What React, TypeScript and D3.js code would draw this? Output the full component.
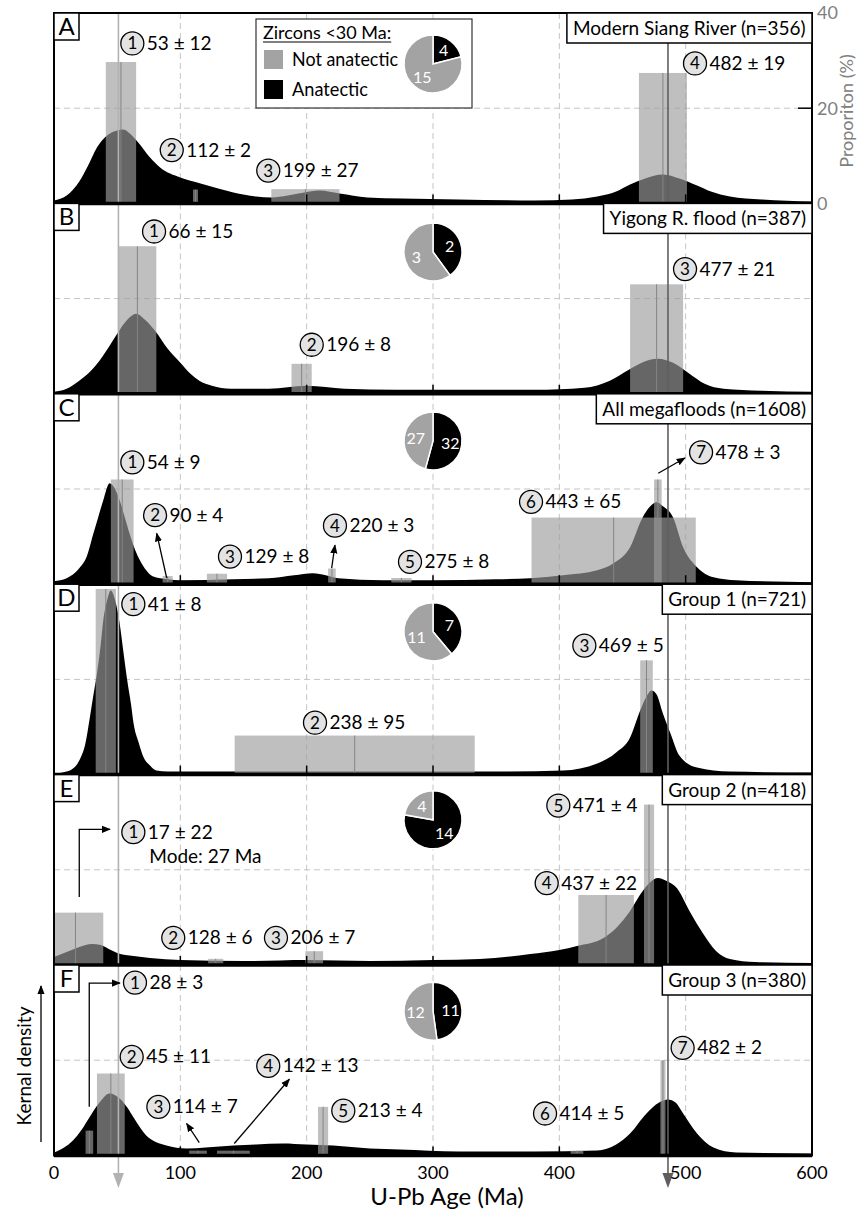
import React from 'react';
import * as d3 from 'd3';

// ---- data ----
const panelLetters = ['A', 'B', 'C', 'D', 'E', 'F'];
const panelTitles = [
  'Modern Siang River (n=356)',
  'Yigong R. flood (n=387)',
  'All megafloods (n=1608)',
  'Group 1 (n=721)',
  'Group 2 (n=418)',
  'Group 3 (n=380)',
];
// zircons < 30 Ma per panel
const anatectic = [4, 2, 32, 7, 14, 11];
const notAnatectic = [15, 3, 27, 11, 4, 12];

const xTicks = [0, 100, 200, 300, 400, 500, 600];
const propTicks = [0, 20, 40];
const referenceAges = [51, 486];

// kernel density curves: [age Ma, relative density]
const densityA = [[0, 3], [10, 8], [20, 22], [27, 38], [34, 56], [42, 68], [50, 73], [55, 74], [60, 70], [66, 62], [76, 46], [84, 36], [100, 26], [116, 20], [130, 15], [142, 11], [160, 7], [172, 6], [185, 8], [198, 11], [210, 13], [226, 10], [248, 6], [275, 5], [320, 4], [380, 3], [410, 4], [430, 7], [445, 12], [456, 19], [468, 25], [482, 29], [495, 25], [509, 18], [520, 12], [535, 7], [560, 4], [600, 2]];
const densityB = [[0, 2], [10, 5], [20, 13], [30, 24], [36, 33], [45, 50], [50, 60], [58, 74], [65, 80], [72, 74], [80, 63], [90, 45], [100, 31], [108, 20], [115, 13], [125, 8], [140, 5], [170, 5], [200, 8], [230, 5], [270, 4], [320, 4], [380, 4], [420, 6], [440, 13], [455, 24], [467, 32], [478, 35], [490, 31], [503, 20], [515, 10], [530, 5], [560, 3], [600, 2]];
const densityC = [[0, 3], [10, 6], [20, 16], [26, 28], [31, 50], [35, 67], [39, 84], [44, 101], [48, 96], [52, 84], [56, 67], [60, 50], [64, 35], [68, 24], [73, 14], [78, 8], [90, 5], [100, 4], [142, 5], [170, 6], [190, 9], [205, 11], [215, 9], [225, 6], [260, 4], [300, 4], [350, 5], [377, 6], [403, 9], [430, 14], [443, 21], [456, 37], [466, 67], [472, 78], [477, 82], [482, 78], [490, 67], [498, 37], [509, 17], [522, 7], [540, 4], [600, 2]];
const densityD = [[0, 1], [10, 3], [16, 7], [20, 14], [25, 32], [28, 54], [31, 78], [34, 101], [37, 130], [39, 154], [42, 174], [45, 184], [48, 176], [52, 151], [55, 122], [58, 94], [61, 70], [63, 51], [67, 32], [71, 17], [76, 9], [81, 4], [90, 3], [150, 3], [250, 3], [350, 3], [403, 4], [430, 11], [445, 22], [456, 37], [464, 64], [469, 78], [473, 84], [477, 80], [482, 61], [488, 41], [495, 19], [509, 7], [535, 3], [600, 2]];
const densityE = [[0, 8], [10, 13], [20, 18], [30, 21], [37, 20], [45, 15], [50, 12], [63, 9], [76, 7], [100, 5], [150, 4], [200, 5], [250, 4], [300, 5], [337, 6], [377, 11], [400, 15], [414, 19], [435, 27], [445, 37], [456, 54], [466, 74], [478, 87], [485, 84], [493, 77], [503, 54], [514, 31], [524, 14], [535, 6], [555, 3], [600, 2]];
const densityF = [[0, 3], [8, 8], [15, 15], [22, 26], [28, 38], [36, 53], [44, 62], [52, 57], [58, 48], [63, 38], [73, 20], [89, 10], [105, 7], [120, 8], [142, 10], [160, 11], [181, 12], [200, 11], [221, 10], [250, 7], [274, 6], [320, 4], [380, 4], [430, 5], [445, 11], [456, 22], [469, 42], [479, 53], [486, 56], [492, 53], [498, 42], [509, 22], [522, 8], [540, 3], [600, 2]];
const densities = [densityA, densityB, densityC, densityD, densityE, densityF];

// age peaks: [no., age Ma, ±, proportion %]
const peaksA = [[1, 53, 12, 29.7], [2, 112, 2, 2.9], [3, 199, 27, 3], [4, 482, 19, 27.4]];
const peaksB = [[1, 66, 15, 31], [2, 196, 8, 6.3], [3, 477, 21, 23]];
const peaksC = [[1, 54, 9, 22], [2, 90, 4, 1.7], [3, 129, 8, 2.2], [4, 220, 3, 3.3], [5, 275, 8, 1.3], [6, 443, 65, 14], [7, 478, 3, 22]];
const peaksD = [[1, 41, 8, 39], [2, 238, 95, 8.2], [3, 469, 5, 24]];
const peaksE = [[1, 17, 22, 11], [2, 128, 6, 1.3], [3, 206, 7, 2.9], [4, 437, 22, 14.7], [5, 471, 4, 33.7]];
const peaksF = [[1, 28, 3, 5.2], [2, 45, 11, 17.2], [3, 114, 7, 1], [4, 142, 13, 1], [5, 213, 4, 10.2], [6, 414, 5, 1], [7, 482, 2, 20]];
const peaks = [peaksA, peaksB, peaksC, peaksD, peaksE, peaksF];

// ---- layout (label spots in [age, %]) ----
const tagSpots = [
  [[62, 33.6], [93.2, 11.2], [169.6, 6.9], [507.4, 29.4]],
  [[79.2, 34.1], [204, 10.3], [499.5, 26.2]],
  [[62, 25.6], [80, 14.5], [139.3, 5.8], [222.4, 12.3], [281.8, 4.7], [377.6, 17.3], [512.2, 27.7]],
  [[62.8, 35.8], [206.6, 10.9], [419.8, 27.1]],
  [[62.8, 27.9], [94.4, 5.7], [175.7, 5.7], [390, 17.2], [399.2, 33.5]],
  [[64.1, 36.3], [61.5, 20.7], [82.6, 10.2], [169.6, 18.8], [229, 9.4], [388.7, 8.8], [497.6, 22.6]],
];
const arrows: [number, number[][]][] = [
  [2, [[89.2, 1.3], [81.3, 10.7]]],
  [2, [[219.8, 3.4], [222.4, 8.2]]],
  [2, [[478.3, 23.3], [499.4, 26.5]]],
  [4, [[20, 14.3], [20, 28.5], [44.3, 28.5]]],
  [5, [[27.9, 10.2], [27.9, 36.2], [52.2, 36.2]]],
  [5, [[115, 2.7], [105, 6.7]]],
  [5, [[142.7, 2.5], [186.3, 16]]],
];
const pieCenters = [[300, 29.3], [300, 29.8], [300, 30.1], [300, 30], [300, 30.5], [300, 30.3]];

const font = 'Lato, "Open Sans", sans-serif';
const left = 54, right = 812, top0 = 13, panelH = 190.4;

let ctx: CanvasRenderingContext2D | null = null;
function textWidth(s: string, size: number) {
  if (!ctx) ctx = document.createElement('canvas').getContext('2d');
  if (!ctx) return s.length * size * 0.5;
  ctx.font = `${size}px Lato`;
  return ctx.measureText(s).width;
}

export default function App() {
  const x = d3.scaleLinear().domain([0, 600]).range([left, right]);
  const yP = d3.scaleLinear().domain([0, 40]).range([panelH, 0]);
  const yD = d3.scaleLinear().domain([0, 190.4]).range([panelH, 0]);
  const area = d3.area<number[]>()
    .x(d => x(d[0]))
    .y0(panelH)
    .y1(d => yD(d[1]))
    .curve(d3.curveMonotoneX);
  const pie = d3.pie<number>().sort(null);
  const arc = d3.arc<d3.PieArcDatum<number>>().innerRadius(0).outerRadius(29);
  const labelArc = d3.arc<d3.PieArcDatum<number>>().innerRadius(17.5).outerRadius(17.5);
  const bottom = top0 + 6 * panelH;
  const pTop = (i: number) => top0 + i * panelH;

  return (
    <svg width={859} height={1211} style={{ display: 'block', position: 'absolute', left: 0, top: 0 }} fontFamily={font}>
      <defs>
        <marker id="ah" viewBox="0 0 10 10" refX="9" refY="5" markerWidth="9" markerHeight="9" markerUnits="userSpaceOnUse" orient="auto">
          <path d="M0,1 L10,5 L0,9 z" fill="#000" />
        </marker>
        <clipPath id="plotclip">
          <rect x={left} y={0} width={right - left} height={panelH} />
        </clipPath>
      </defs>

      {densities.map((dens, i) => (
        <g key={i} transform={`translate(0,${pTop(i)})`}>
          <g clipPath="url(#plotclip)">
            {xTicks.slice(1, -1).map(t => (
              <line key={t} x1={x(t)} x2={x(t)} y1={0} y2={panelH} stroke="#c4c4c4" strokeDasharray="6,4" />
            ))}
            <line x1={left} x2={right} y1={yP(20)} y2={yP(20)} stroke="#c4c4c4" strokeDasharray="6,4" />
            <path d={area(dens) || ''} fill="#000" />
            {peaks[i].map(([n, age, err, p]) => {
              const a0 = Math.max(0, age - err);
              return (
                <g key={n}>
                  <rect x={x(a0)} width={x(age + err) - x(a0)} y={yP(p)} height={panelH - yP(p)} fill="#9d9d9d" fillOpacity={0.65} />
                  <line x1={x(age)} x2={x(age)} y1={yP(p)} y2={panelH} stroke="#858585" strokeWidth={1} />
                </g>
              );
            })}
          </g>
          {xTicks.slice(1, -1).map(t => (
            <line key={t} x1={x(t)} x2={x(t)} y1={panelH - 9} y2={panelH} stroke="#000" strokeWidth={1.5} />
          ))}
        </g>
      ))}

      {/* reference lines with arrow heads */}
      {referenceAges.map((a, k) => {
        const c = k === 0 ? '#b2b2b2' : '#5e5e5e';
        return (
          <g key={a}>
            <line x1={x(a)} x2={x(a)} y1={top0} y2={1176} stroke={c} strokeWidth={1.6} />
            <path d={`M${x(a) - 5.5},1173 L${x(a) + 5.5},1173 L${x(a)},1188 z`} fill={c} />
          </g>
        );
      })}

      {/* frame */}
      <rect x={left} y={top0} width={right - left} height={bottom - top0} fill="none" stroke="#000" strokeWidth={2} />
      {panelLetters.map((_, i) => (
        <line key={i} x1={left} x2={right} y1={pTop(i + 1)} y2={pTop(i + 1)} stroke="#000" strokeWidth={3.5} />
      ))}

      {/* right axis (panel A) */}
      {propTicks.map(t => (
        <g key={t}>
          <line x1={right - 14} x2={right} y1={top0 + yP(t)} y2={top0 + yP(t)} stroke="#000" strokeWidth={1.5} />
          <text x={817} y={top0 + yP(t)} dy="0.35em" fontSize={18} fill="#808080">{t}</text>
        </g>
      ))}
      <text transform={`translate(853,${top0 + 98}) rotate(-90)`} textAnchor="middle" fontSize={18} fill="#808080">Proporiton (%)</text>

      {/* x axis */}
      {xTicks.map(t => (
        <text key={t} x={x(t)} y={1179} textAnchor="middle" fontSize={18}>{t}</text>
      ))}
      <text x={447} y={1205} textAnchor="middle" fontSize={24}>U-Pb Age (Ma)</text>

      {/* left label */}
      <text transform="translate(31,1066) rotate(-90)" textAnchor="middle" fontSize={19}>Kernal density</text>
      <line x1={41} x2={41} y1={1142} y2={986} stroke="#000" strokeWidth={1.3} markerEnd="url(#ah)" />

      {/* panel letters and titles */}
      {panelLetters.map((L, i) => {
        const w = textWidth(panelTitles[i], 19) + 12;
        return (
          <g key={L}>
            <rect x={left} y={pTop(i)} width={25} height={27} fill="#fff" stroke="#000" strokeWidth={1.5} />
            <text x={left + 12.5} y={pTop(i) + 22} textAnchor="middle" fontSize={24}>{L}</text>
            <rect x={right - w} y={pTop(i)} width={w} height={30} fill="#fff" stroke="#000" strokeWidth={1.5} />
            <text x={right - w + 6} y={pTop(i) + 22} fontSize={19}>{panelTitles[i]}</text>
          </g>
        );
      })}

      {/* legend */}
      <g>
        <rect x={256} y={19} width={216} height={89} fill="#fff" stroke="#333" strokeWidth={1.2} />
        <text x={263} y={39} fontSize={18}>Zircons &lt;30 Ma:</text>
        <line x1={263} x2={263 + textWidth('Zircons <30 Ma:', 18)} y1={42} y2={42} stroke="#000" strokeWidth={1} />
        <rect x={264} y={50} width={19} height={19} fill="#a3a3a3" />
        <text x={292} y={66} fontSize={19} textLength={106} lengthAdjust="spacingAndGlyphs">Not anatectic</text>
        <rect x={264} y={80} width={19} height={19} fill="#000" />
        <text x={292} y={96} fontSize={19} textLength={76} lengthAdjust="spacingAndGlyphs">Anatectic</text>
      </g>

      {/* pies */}
      {anatectic.map((b, i) => {
        const [pa, pp] = pieCenters[i];
        const arcs = pie([b, notAnatectic[i]]);
        return (
          <g key={i} transform={`translate(${x(pa)},${pTop(i) + yP(pp)})`}>
            {arcs.map((s, k) => (
              <path key={k} d={arc(s) || ''} fill={k === 0 ? '#000' : '#a3a3a3'} stroke="#fff" strokeWidth={1.5} />
            ))}
            {arcs.map((s, k) => {
              const [cx, cy] = labelArc.centroid(s);
              return <text key={k} x={cx} y={cy} dy="0.35em" textAnchor="middle" fontSize={16} fill="#fff">{s.data}</text>;
            })}
          </g>
        );
      })}

      {/* numbered peak tags */}
      {peaks.map((pk, i) => (
        <g key={i} transform={`translate(0,${pTop(i)})`}>
          {pk.map(([n, age, err], k) => {
            const cx = x(tagSpots[i][k][0]);
            const cy = yP(tagSpots[i][k][1]);
            return (
              <g key={n}>
                <circle cx={cx} cy={cy} r={11.5} fill="#e3e3e3" stroke="#000" strokeWidth={1.3} />
                <text x={cx} y={cy + 6} textAnchor="middle" fontSize={17}>{n}</text>
                <text x={cx + 14.5} y={cy + 6.5} fontSize={19}>{`${age} ± ${err}`}</text>
                {i === 4 && n === 1 && <text x={cx + 16} y={cy + 31} fontSize={19}>Mode: 27 Ma</text>}
              </g>
            );
          })}
        </g>
      ))}

      {/* annotation arrows */}
      {arrows.map(([i, pts], k) => (
        <polyline key={k} points={pts.map(([a, p]) => `${x(a)},${pTop(i) + yP(p)}`).join(' ')}
          fill="none" stroke="#000" strokeWidth={1.3} markerEnd="url(#ah)" />
      ))}
    </svg>
  );
}
